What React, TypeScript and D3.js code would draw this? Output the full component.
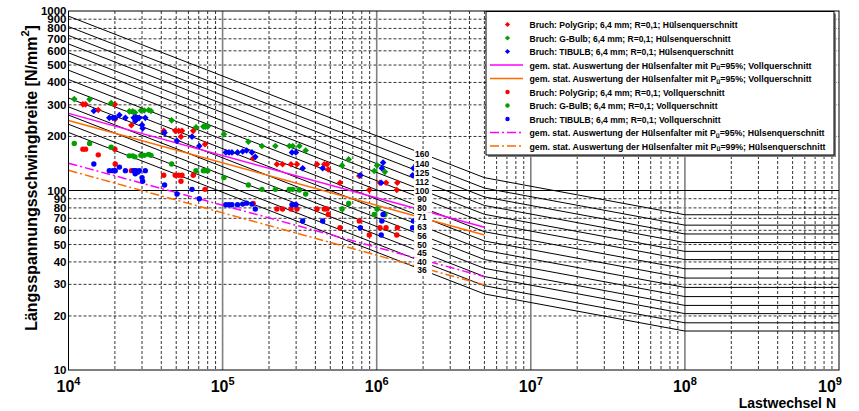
import React from "react";
import * as d3 from "d3";

// ---------- data ----------
const fatClasses = [160, 140, 125, 112, 100, 90, 80, 71, 63, 56, 50, 45, 40, 36];
const fatKnees = [1e4, 5e6, 1e8, 1e9];
const fatSlope1 = 3;
const fatSlope2 = 6.3;

const statN = [1e4, 5e6];
const magentaSolid = [269, 62.4];
const orangeSolid = [245.6, 56.5];
const magentaDashDot = [142, 33.1];
const orangeDashDot = [129.5, 29.8];

const polyGripN = [1.24e4, 1.29e4, 1.56e4, 2.0e4, 2.01e4, 2.56e4, 4.15e4, 4.93e4, 5.19e4, 5.45e4, 5.37e4, 6.45e4, 7.69e4, 1.58e5, 2.25e5, 2.45e5, 2.78e5, 3.04e5, 4.1e5, 4.57e5, 4.76e5, 4.85e5, 5.78e5, 7.71e5, 8.95e5, 1.15e6, 1.05e6, 1.36e6, 1.35e6];
const polyGripH = [302, 302, 281, 302, 250, 231, 215, 215, 215, 215, 199.5, 215, 181, 151, 140, 140, 140, 140, 140, 140, 140, 131, 110.5, 120.5, 100.7, 110.5, 110.5, 110.5, 100.7];
const polyGripV = [170, 170, 158, 170, 140.5, 129, 121.6, 121.6, 121.6, 121.6, 112.5, 121.6, 101.5, 84.7, 78.9, 78.9, 78.9, 78.9, 78.9, 78.9, 78.9, 73.5, 62.1, 67.6, 56.5, 62.1, 62.1, 62.1, 56.5];

const gBulbN = [1.09e4, 1.37e4, 1.89e4, 2.48e4, 2.61e4, 2.70e4, 2.95e4, 3.10e4, 3.31e4, 3.43e4, 4.67e4, 6.72e4, 7.5e4, 7.72e4, 8.0e4, 1.02e5, 1.47e5, 1.80e5, 2.20e5, 2.71e5, 2.85e5, 3.15e5, 3.46e5, 5.96e5, 6.58e5, 9.64e5, 1.005e6, 1.13e6, 1.80e6];
const gBulbH = [323, 322, 307, 276, 276, 272, 279, 279, 281, 277, 246, 225, 227, 227, 227, 206, 187, 177, 177, 177, 177, 177, 167, 138, 149, 128.5, 138, 127, 139];
const gBulbV = [183, 183, 174, 156, 156, 154, 157, 157, 159, 157, 140.5, 129, 129, 129, 129, 118, 107.4, 101.5, 101.5, 101.5, 101.5, 100.7, 95.6, 78.9, 84.7, 73.5, 78.9, 73.5, 78.9];

const tibulbN = [1.46e4, 1.84e4, 1.94e4, 2.01e4, 2.14e4, 2.34e4, 2.65e4, 2.74e4, 2.81e4, 2.71e4, 2.88e4, 3.15e4, 3.0e4, 3.03e4, 4.2e4, 5.06e4, 6.33e4, 7.06e4, 1.05e5, 1.10e5, 1.15e5, 1.25e5, 1.35e5, 1.43e5, 1.55e5, 1.63e5, 2.82e5, 2.99e5, 3.31e5, 4.46e5, 7.83e5, 1.10e6, 1.08e6, 1.07e6, 1.73e6, 1.71e6];
const tibulbH = [277, 254, 254, 254, 263, 254, 254, 256, 252, 244, 254, 254, 232, 222, 210, 189, 199.5, 177, 163, 163, 163, 163, 165, 167, 163, 154, 163, 163, 133, 133, 121.6, 143, 133, 110.5, 133, 121.6];
const tibulbV = [140.5, 129, 129, 129, 135, 129, 129, 129, 126.5, 124, 129, 129, 118, 112.5, 107.4, 95.6, 101.5, 90, 83.3, 83.3, 83.3, 83.3, 84, 85, 84, 78.9, 83.3, 83.3, 67.6, 67.6, 62.1, 73.5, 67.6, 56.5, 67.6, 62.1];

const yTickValues = [10, 20, 30, 40, 50, 60, 70, 80, 90, 100, 200, 300, 400, 500, 600, 700, 800, 900, 1000];
const xDecadeExponents = [4, 5, 6, 7, 8, 9];

const legendLabels = [
  "Bruch: PolyGrip; 6,4 mm; R=0,1; Hülsenquerschnitt",
  "Bruch: G-Bulb; 6,4 mm; R=0,1; Hülsenquerschnitt",
  "Bruch: TIBULB; 6,4 mm; R=0,1; Hülsenquerschnitt",
  "gem. stat. Auswertung der Hülsenfalter mit Pü=95%; Vollquerschnitt",
  "gem. stat. Auswertung der Hülsenfalter mit Pü=95%; Vollquerschnitt",
  "Bruch: PolyGrip; 6,4 mm; R=0,1; Vollquerschnitt",
  "Bruch: G-BulB; 6,4 mm; R=0,1; Vollquerschnitt",
  "Bruch: TIBULB; 6,4 mm; R=0,1; Vollquerschnitt",
  "gem. stat. Auswertung der Hülsenfalter mit Pü=95%; Hülsenquerschnitt",
  "gem. stat. Auswertung der Hülsenfalter mit Pü=99%; Hülsenquerschnitt",
];

// ---------- styling ----------
const RED = "#ff0000";
const GREEN = "#00a000";
const BLUE = "#0000ff";
const MAGENTA = "#ff00ff";
const ORANGE = "#ff6a00";
const FONT = "'Liberation Sans', Arial, Helvetica, sans-serif";
// rendered widths of legend texts (layout)
const legendTextWidths = [208, 201, 204, 282, 282, 195, 188, 191, 295, 296];

const W = 859, H = 411;
const left = 68.5, right = 839, top = 11, bottom = 370;

const x = d3.scaleLog().domain([1e4, 1e9]).range([left, right]);
const y = d3.scaleLog().domain([10, 1000]).range([bottom, top]);

function fatValue(fat: number, n: number) {
  const s1 = fat * Math.pow(2e6 / Math.min(n, 5e6), 1 / fatSlope1);
  if (n <= 5e6) return s1;
  const s5 = fat * Math.pow(2e6 / 5e6, 1 / fatSlope1);
  return s5 * Math.pow(5e6 / Math.min(n, 1e8), 1 / fatSlope2);
}

const line = d3
  .line<[number, number]>()
  .x((d) => x(d[0]))
  .y((d) => y(d[1]));

function Diamond({ cx, cy, r, color }: { cx: number; cy: number; r: number; color: string }) {
  return (
    <path
      d={`M${cx},${cy - r}L${cx + r},${cy}L${cx},${cy + r}L${cx - r},${cy}Z`}
      fill={color}
    />
  );
}

const LG_FONT = 9.4;

function LegendText({ text, xPos, yPos, width }: { text: string; xPos: number; yPos: number; width: number }) {
  const idx = text.indexOf("Pü");
  if (idx < 0) {
    return (
      <text x={xPos} y={yPos} fontSize={LG_FONT} fontWeight="bold" fontFamily={FONT} textLength={width} lengthAdjust="spacingAndGlyphs">
        {text}
      </text>
    );
  }
  return (
    <text x={xPos} y={yPos} fontSize={LG_FONT} fontWeight="bold" fontFamily={FONT} textLength={width} lengthAdjust="spacingAndGlyphs">
      <tspan>{text.slice(0, idx + 1)}</tspan>
      <tspan fontSize={7} dy={1.5}>ü</tspan>
      <tspan dy={-1.5}>{text.slice(idx + 2)}</tspan>
    </text>
  );
}

export default function App() {
  const minorX: number[] = [];
  for (let k = 4; k < 9; k++) for (let m = 2; m <= 9; m++) minorX.push(m * Math.pow(10, k));
  const majorX = [1e5, 1e6, 1e7, 1e8];
  const dashedY: number[] = [];
  for (const base of [10, 100]) for (let m = 2; m <= 9; m++) dashedY.push(m * base);

  const pointSeries = [
    { n: polyGripN, h: polyGripH, v: polyGripV, color: RED },
    { n: gBulbN, h: gBulbH, v: gBulbV, color: GREEN },
    { n: tibulbN, h: tibulbH, v: tibulbV, color: BLUE },
  ];

  const statLines = [
    { v: orangeSolid, color: ORANGE, dash: undefined },
    { v: magentaSolid, color: MAGENTA, dash: undefined },
    { v: orangeDashDot, color: ORANGE, dash: "9,3,2,3" },
    { v: magentaDashDot, color: MAGENTA, dash: "9,3,2,3" },
  ];

  const legendItems = [
    { kind: "diamond", color: RED },
    { kind: "diamond", color: GREEN },
    { kind: "diamond", color: BLUE },
    { kind: "line", color: MAGENTA },
    { kind: "line", color: ORANGE },
    { kind: "circle", color: RED },
    { kind: "circle", color: GREEN },
    { kind: "circle", color: BLUE },
    { kind: "dash", color: MAGENTA },
    { kind: "dash", color: ORANGE },
  ];

  const lgX = 486, lgY = 11.5, lgW = 348, lgH = 143.5;
  const rowY0 = 28, rowStep = 13.5;

  const labelN = 2e6;

  return (
    <svg
      width={W}
      height={H}
      viewBox={`0 0 ${W} ${H}`}
      style={{ position: "absolute", left: 0, top: 0, background: "#fff" }}
    >
      <defs>
        <clipPath id="plotClip">
          <rect x={left} y={top} width={right - left} height={bottom - top} />
        </clipPath>
      </defs>
      <rect x={0} y={0} width={W} height={H} fill="#fff" />

      {/* grid */}
      <g>
        {minorX.map((n) => (
          <line key={"mx" + n} x1={x(n)} x2={x(n)} y1={top} y2={bottom} stroke="#000" strokeWidth={0.8} strokeDasharray="3,2" />
        ))}
        {dashedY.map((v) => (
          <line key={"dy" + v} x1={left} x2={right} y1={y(v)} y2={y(v)} stroke="#000" strokeWidth={0.8} strokeDasharray="3,2" />
        ))}
        {majorX.map((n) => (
          <line key={"Mx" + n} x1={x(n)} x2={x(n)} y1={top} y2={bottom} stroke="#808080" strokeWidth={1.6} />
        ))}
        <line x1={left} x2={right} y1={y(100)} y2={y(100)} stroke="#000" strokeWidth={1} />
      </g>

      {/* FAT lines */}
      <g clipPath="url(#plotClip)">
        {fatClasses.map((fat) => (
          <path
            key={"fat" + fat}
            d={line(fatKnees.map((n) => [n, fatValue(fat, n)] as [number, number])) || ""}
            fill="none"
            stroke="#000"
            strokeWidth={1}
          />
        ))}
      </g>

      {/* statistical lines */}
      <g clipPath="url(#plotClip)">
        {statLines.map((s, i) => (
          <path
            key={"st" + i}
            d={line(statN.map((n, j) => [n, s.v[j]] as [number, number])) || ""}
            fill="none"
            stroke={s.color}
            strokeWidth={1.5}
            strokeDasharray={s.dash}
          />
        ))}
      </g>

      {/* points */}
      <g>
        {pointSeries.map((s, si) =>
          s.n.map((n, i) => (
            <g key={`p${si}-${i}`}>
              <Diamond cx={x(n)} cy={y(s.h[i])} r={3.3} color={s.color} />
              <circle cx={x(n)} cy={y(s.v[i])} r={2.7} fill={s.color} />
            </g>
          ))
        )}
      </g>

      {/* FAT labels */}
      <g>
        {fatClasses.map((fat) => (
          <g key={"fl" + fat}>
            <rect x={x(labelN) - 9} y={y(fat) - 4.5} width={18} height={9} fill="#fff" />
            <text
              x={x(labelN) - 1}
              y={y(fat) + 3}
              textAnchor="middle"
              fontSize={8.5}
              fontWeight="bold"
              fontFamily={FONT}
            >
              {fat}
            </text>
          </g>
        ))}
      </g>

      {/* frame */}
      <rect x={left} y={top} width={right - left} height={bottom - top} fill="none" stroke="#000" strokeWidth={1} />

      {/* y ticks */}
      <g>
        {yTickValues.map((v) => (
          <text
            key={"yt" + v}
            x={left - 2}
            y={y(v) + 4}
            textAnchor="end"
            fontSize={11.5}
            fontWeight="bold"
            fontFamily={FONT}
          >
            {v}
          </text>
        ))}
      </g>

      {/* x ticks */}
      <g>
        {xDecadeExponents.map((e) => {
          const px = Math.min(x(Math.pow(10, e)), 830);
          return (
            <text key={"xt" + e} x={px} y={392} textAnchor="middle" fontSize={16} fontWeight="bold" fontFamily={FONT}>
              <tspan>10</tspan>
              <tspan fontSize={11} dy={-7}>{e}</tspan>
            </text>
          );
        })}
      </g>

      {/* axis titles */}
      <text x={836} y={408} textAnchor="end" fontSize={14} fontWeight="bold" fontFamily={FONT}>
        Lastwechsel N
      </text>
      <text
        transform={`translate(37,178) rotate(-90)`}
        textAnchor="middle"
        fontSize={16}
        fontWeight="bold"
        fontFamily={FONT}
      >
        <tspan>Längsspannungsschwingbreite [N/mm</tspan>
        <tspan fontSize={11} dy={-8}>2</tspan>
        <tspan dy={8}>]</tspan>
      </text>

      {/* legend */}
      <g>
        <rect x={lgX + 2} y={lgY + 2} width={lgW} height={lgH} fill="#808080" />
        <rect x={lgX} y={lgY} width={lgW} height={lgH} fill="#fff" stroke="#000" strokeWidth={1} />
        {legendItems.map((it, i) => {
          const cy = rowY0 + i * rowStep - 3.5;
          return (
            <g key={"lg" + i}>
              {it.kind === "diamond" && <Diamond cx={507.5} cy={cy} r={2.6} color={it.color} />}
              {it.kind === "circle" && <circle cx={507.5} cy={cy} r={2.2} fill={it.color} />}
              {it.kind === "line" && <line x1={490} x2={523} y1={cy} y2={cy} stroke={it.color} strokeWidth={1.5} />}
              {it.kind === "dash" && (
                <line x1={490} x2={523} y1={cy} y2={cy} stroke={it.color} strokeWidth={1.5} strokeDasharray="9,3,2,3" />
              )}
              <LegendText text={legendLabels[i]} xPos={529.5} yPos={rowY0 + i * rowStep} width={legendTextWidths[i]} />
            </g>
          );
        })}
      </g>
    </svg>
  );
}
